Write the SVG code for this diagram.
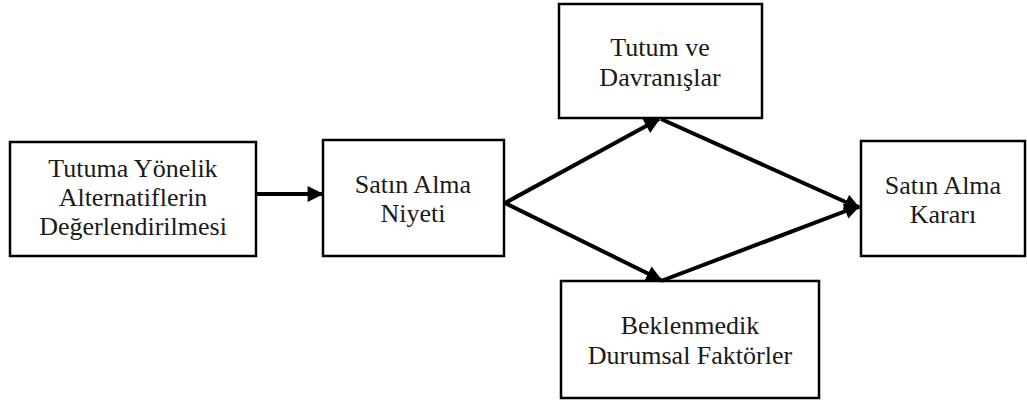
<svg xmlns="http://www.w3.org/2000/svg" width="1027" height="403" viewBox="0 0 1027 403">
  <style>
    .box { fill: #ffffff; stroke: #000000; stroke-width: 2.5; }
    .lbl { font-family: "Liberation Serif", "Times New Roman", serif; font-size: 26px; fill: #1a1a1a; text-anchor: middle; }
    .edge { stroke: #000000; stroke-width: 4; fill: none; }
  </style>
  <defs>
    <marker id="arrow" viewBox="0 0 10 10" refX="9" refY="5" markerWidth="4.2" markerHeight="4" markerUnits="strokeWidth" orient="auto">
      <path d="M0,0 L10,5 L0,10 z" fill="#000000"/>
    </marker>
  </defs>
  <rect width="1027" height="403" fill="#ffffff"/>

  <g id="node-tutuma">
    <rect class="box" x="10" y="142" width="246" height="114"/>
    <text class="lbl" x="133" y="177">Tutuma Yönelik</text>
    <text class="lbl" x="133" y="206">Alternatiflerin</text>
    <text class="lbl" x="133" y="235">Değerlendirilmesi</text>
  </g>

  <g id="node-niyet">
    <rect class="box" x="323" y="140" width="181" height="116"/>
    <text class="lbl" x="413" y="193">Satın Alma</text>
    <text class="lbl" x="413" y="222">Niyeti</text>
  </g>

  <g id="node-tutum">
    <rect class="box" x="559" y="4" width="203" height="114"/>
    <text class="lbl" x="660" y="56">Tutum ve</text>
    <text class="lbl" x="660" y="86">Davranışlar</text>
  </g>

  <g id="node-beklenmedik">
    <rect class="box" x="561" y="281" width="258" height="117"/>
    <text class="lbl" x="690" y="334">Beklenmedik</text>
    <text class="lbl" x="690" y="364">Durumsal Faktörler</text>
  </g>

  <g id="node-karar">
    <rect class="box" x="861" y="141" width="164" height="115"/>
    <text class="lbl" x="943" y="194">Satın Alma</text>
    <text class="lbl" x="943" y="223">Kararı</text>
  </g>

  <g id="connectors">
    <line class="edge" x1="257" y1="194" x2="322" y2="194" marker-end="url(#arrow)"/>
    <line class="edge" x1="505" y1="203" x2="659" y2="119" marker-end="url(#arrow)"/>
    <line class="edge" x1="505" y1="203" x2="661" y2="280" marker-end="url(#arrow)"/>
    <line class="edge" x1="661" y1="119" x2="859" y2="208" marker-end="url(#arrow)"/>
    <line class="edge" x1="661" y1="281" x2="859" y2="206" marker-end="url(#arrow)"/>
  </g>
</svg>
